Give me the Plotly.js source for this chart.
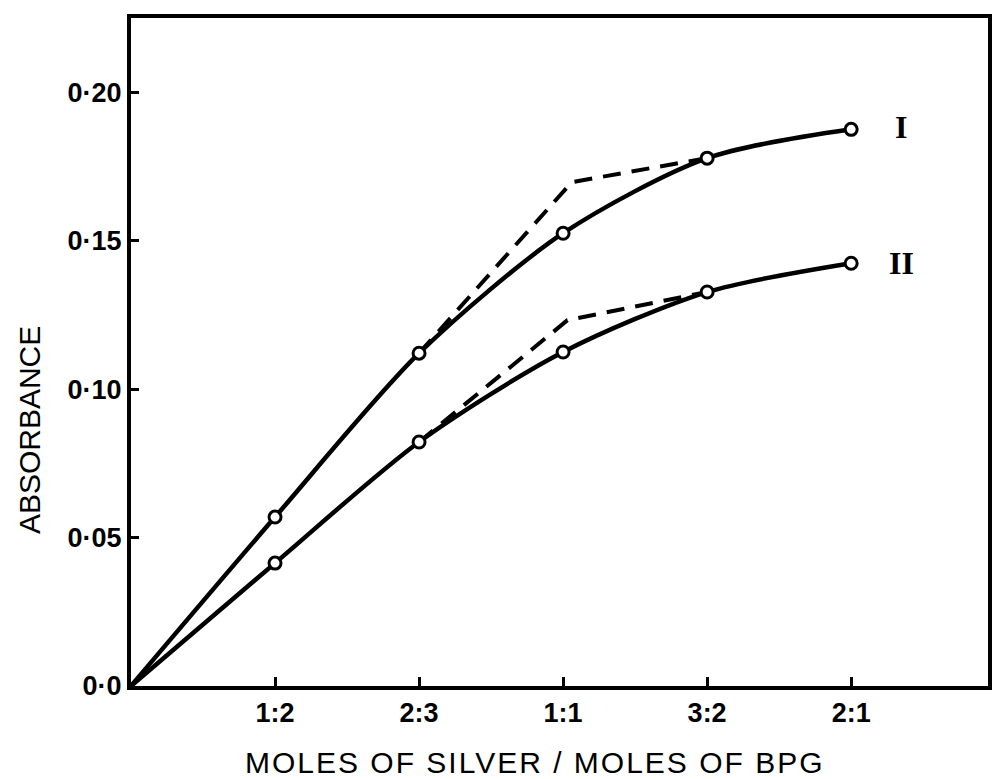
<!DOCTYPE html>
<html>
<head>
<meta charset="utf-8">
<script src="https://cdn.plot.ly/plotly-3.0.1.min.js"></script>
<style>
html,body{margin:0;padding:0;background:#fff;}
#chart{width:992px;height:779px;}
</style>
</head>
<body>
<div id="chart"></div>
<script>
// Category positions (0 = origin) and tick labels
const ratioPos = [0, 1, 2, 3, 4, 5];
const ratioLabels = ['', '1:2', '2:3', '1:1', '3:2', '2:1'];

// Series I (solid, measured)
const absI = [0, 0.0569, 0.1121, 0.1525, 0.1778, 0.1875];
// Series II (solid, measured)
const absII = [0, 0.0414, 0.0822, 0.1125, 0.1327, 0.1424];

// Dashed extrapolation lines
const dashIx = [2, 3.06, 4];
const dashIy = [0.1121, 0.1697, 0.1778];
const dashIIx = [2, 3.03, 4];
const dashIIy = [0.0822, 0.1232, 0.1327];

const yTickVals = [0, 0.05, 0.10, 0.15, 0.20];
const yTickText = ['0·0', '0·05', '0·10', '0·15', '0·20'];

const seriesNames = ['I', 'II'];
const xTitle = 'MOLES OF SILVER / MOLES OF BPG';
const yTitle = 'ABSORBANCE';

const lineStyle = {color: '#000', width: 4.5};
const markerStyle = {symbol: 'circle', size: 12, color: '#fff', line: {color: '#000', width: 3}};

const traces = [
  {x: dashIx, y: dashIy, mode: 'lines', line: {color: '#000', width: 4, dash: '18px,11px'}, hoverinfo: 'skip'},
  {x: dashIIx, y: dashIIy, mode: 'lines', line: {color: '#000', width: 4, dash: '18px,11px'}, hoverinfo: 'skip'},
  {x: ratioPos, y: absI, mode: 'lines', line: Object.assign({shape: 'spline', smoothing: 0.8}, lineStyle), name: 'I'},
  {x: ratioPos, y: absII, mode: 'lines', line: Object.assign({shape: 'spline', smoothing: 0.8}, lineStyle), name: 'II'},
  {x: ratioPos.slice(1), y: absI.slice(1), mode: 'markers', marker: markerStyle, cliponaxis: false},
  {x: ratioPos.slice(1), y: absII.slice(1), mode: 'markers', marker: markerStyle, cliponaxis: false}
];

const layout = {
  width: 992, height: 779,
  margin: {l: 131, r: 4, t: 18, b: 93},
  paper_bgcolor: '#fff', plot_bgcolor: '#fff',
  showlegend: false,
  xaxis: {
    range: [0, 5.95],
    tickvals: ratioPos.slice(1),
    ticktext: ratioLabels.slice(1),
    ticks: 'inside', ticklen: 9, tickwidth: 3, tickcolor: '#000',
    showline: true, linecolor: '#000', linewidth: 4, mirror: true,
    showgrid: false, zeroline: false,
    tickfont: {family: 'Liberation Sans, Arial, sans-serif', size: 27, color: '#000', weight: 'bold'}
  },
  yaxis: {
    range: [0, 0.225],
    tickvals: yTickVals,
    ticktext: yTickText,
    ticks: 'inside', ticklen: 8, tickwidth: 3, tickcolor: '#000',
    showline: true, linecolor: '#000', linewidth: 4, mirror: true,
    showgrid: false, zeroline: false,
    tickfont: {family: 'Liberation Sans Narrow, Liberation Sans, Arial, sans-serif', size: 27, color: '#000', weight: 'bold'}
  },
  annotations: [
    {xref: 'paper', yref: 'paper', x: 0.471, y: -0.115, xanchor: 'center', yanchor: 'middle',
     text: xTitle, showarrow: false,
     font: {family: 'Liberation Sans, Arial, sans-serif', size: 30, color: '#000'}},
    {xref: 'paper', yref: 'y', x: -0.119, y: 0.0862, xanchor: 'center', yanchor: 'middle', textangle: -90,
     text: yTitle, showarrow: false,
     font: {family: 'Liberation Sans, Arial, sans-serif', size: 30, color: '#000'}},
    {x: ratioPos[5], y: absI[5], text: seriesNames[0], showarrow: false, xshift: 50, yshift: 2,
     font: {family: 'Liberation Serif, serif', size: 32, color: '#000', weight: 'bold'}},
    {x: ratioPos[5], y: absII[5], text: seriesNames[1], showarrow: false, xshift: 50, yshift: 0,
     font: {family: 'Liberation Serif, serif', size: 32, color: '#000', weight: 'bold'}}
  ]
};

Plotly.newPlot('chart', traces, layout, {displayModeBar: false, staticPlot: true}).then(function () {
  // widen letter spacing of the x-axis title to match the lettering of the original
  document.querySelectorAll('.annotation-text').forEach(function (t) {
    if (t.textContent === xTitle) t.style.letterSpacing = '2px';
  });
});
</script>
</body>
</html>
